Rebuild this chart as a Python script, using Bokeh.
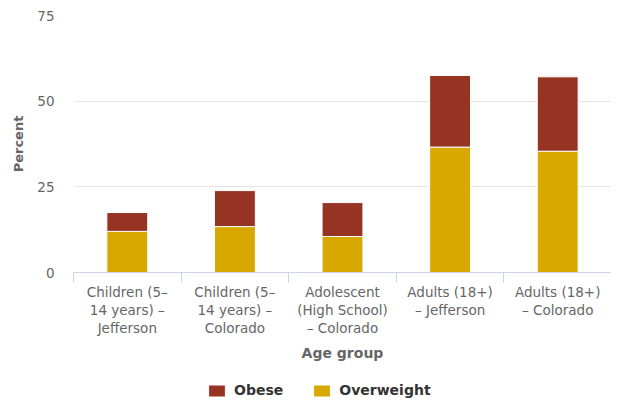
from bokeh.plotting import figure
from bokeh.models import ColumnDataSource, Range1d, FixedTicker, Legend, LegendItem
from bokeh.layouts import column
from bokeh.embed import file_html
from bokeh.resources import INLINE

categories = [
    "Children (5–\n14 years) –\nJefferson",
    "Children (5–\n14 years) –\nColorado",
    "Adolescent\n(High School)\n– Colorado",
    "Adults (18+)\n– Jefferson",
    "Adults (18+)\n– Colorado",
]
overweight = [12.0, 13.4, 10.5, 36.6, 35.4]
obese = [5.5, 10.5, 9.9, 20.9, 21.7]
y_ticks = [0, 25, 50, 75]
stack_order = ["overweight", "obese"]
series_labels = {"obese": "Obese", "overweight": "Overweight"}
series_colors = {"obese": "#973323", "overweight": "#d6a800"}
legend_order = ["obese", "overweight"]

FONT = "DejaVu Sans"
n = len(categories)
xs = [i + 0.5 for i in range(n)]

source = ColumnDataSource(dict(x=xs, overweight=overweight, obese=obese))

p = figure(width=611, height=370, output_backend="svg", toolbar_location=None,
           x_range=Range1d(0, n), y_range=Range1d(0, 75),
           min_border_left=73, min_border_right=0, min_border_top=15,
           min_border_bottom=98)
p.outline_line_color = None

r = p.vbar_stack(stack_order, x="x", width=0.38, source=source,
                 color=[series_colors[s] for s in stack_order],
                 line_color="white", line_width=1)

# x axis
xa = p.xaxis[0]
xa.ticker = FixedTicker(ticks=xs, minor_ticks=list(range(n + 1)))
xa.major_label_overrides = {x: c for x, c in zip(xs, categories)}
xa.axis_line_color = "#ccd6eb"
xa.major_tick_line_color = None
xa.minor_tick_line_color = "#ccd6eb"
xa.minor_tick_out = 10
xa.minor_tick_in = 0
xa.major_label_text_font = FONT
xa.major_label_text_font_size = "13.5px"
xa.major_label_text_color = "#666666"
xa.major_label_text_line_height = 1.15
xa.major_label_standoff = 1
xa.axis_label = "Age group"
xa.axis_label_text_font = FONT
xa.axis_label_text_font_size = "14px"
xa.axis_label_text_font_style = "bold"
xa.axis_label_text_color = "#666666"
xa.axis_label_standoff = 6

# y axis
ya = p.yaxis[0]
ya.ticker = FixedTicker(ticks=y_ticks)
ya.axis_line_color = None
ya.major_tick_line_color = None
ya.minor_tick_line_color = None
ya.major_label_text_font = FONT
ya.major_label_text_font_size = "13.5px"
ya.major_label_text_color = "#666666"
ya.major_label_standoff = 13
ya.axis_label = "Percent"
ya.axis_label_text_font = FONT
ya.axis_label_text_font_size = "13px"
ya.axis_label_text_font_style = "bold"
ya.axis_label_text_color = "#666666"
ya.axis_label_standoff = 8

p.xgrid.grid_line_color = None
p.ygrid.grid_line_color = "#e6e6e6"
p.ygrid.grid_line_width = 1

# legend strip below the chart (hidden copies of the series act as legend keys)
lg = figure(width=611, height=28, output_backend="svg", toolbar_location=None,
            x_axis_type=None, y_axis_type=None,
            x_range=Range1d(0, n), y_range=Range1d(0, 75), min_border=0)
lg.outline_line_color = None
lg.grid.visible = False
keys = lg.vbar_stack(stack_order, x="x", width=0.38, source=source,
                     color=[series_colors[s] for s in stack_order],
                     line_color="white", line_width=1)
key_of = dict(zip(stack_order, keys))
for k in keys:
    k.visible = False

legend = Legend(items=[LegendItem(label=series_labels[s], renderers=[key_of[s]])
                       for s in legend_order],
                orientation="horizontal", location=(133, 0))
legend.border_line_color = None
legend.background_fill_alpha = 0
legend.inactive_fill_alpha = 0
legend.label_text_font = FONT
legend.label_text_font_size = "14px"
legend.label_text_font_style = "bold"
legend.label_text_color = "#333333"
legend.glyph_width = 21
legend.glyph_height = 15
legend.spacing = 28
legend.label_standoff = 7
legend.padding = 0
legend.margin = 0
legend.click_policy = "none"
lg.add_layout(legend, "center")

layout = column(p, lg, spacing=0)

open("out.html", "w").write(file_html(layout, INLINE))
